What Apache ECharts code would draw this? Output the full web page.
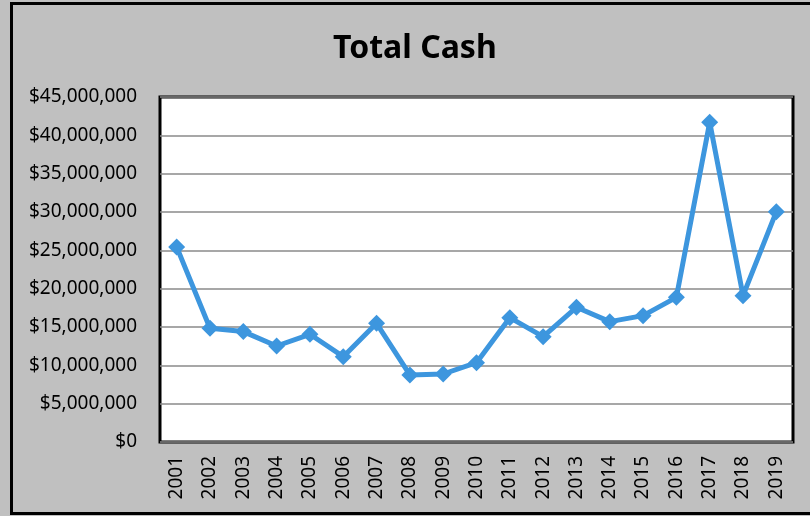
<!DOCTYPE html>
<html>
<head>
<meta charset="utf-8">
<script src="https://cdn.jsdelivr.net/npm/echarts@6/dist/echarts.min.js"></script>
<style>
  html, body { margin: 0; padding: 0; background: #c0c0c0; }
  #chart { width: 810px; height: 516px; }
</style>
</head>
<body>
<div id="chart"></div>
<script>
// data
const years = ["2001", "2002", "2003", "2004", "2005", "2006", "2007", "2008", "2009", "2010",
  "2011", "2012", "2013", "2014", "2015", "2016", "2017", "2018", "2019"];
const totalCash = [25450000, 14830000, 14400000, 12520000, 14050000, 11130000, 15480000, 8750000, 8870000, 10350000,
  16220000, 13740000, 17570000, 15700000, 16480000, 18870000, 41700000, 19090000, 30040000];
const yMin = 0;
const yMax = 45000000;
const yStep = 5000000;

const chart = echarts.init(document.getElementById("chart"));

function money(v) {
  return "$" + v.toLocaleString("en-US");
}

const option = {
  backgroundColor: "#c0c0c0",
  animation: false,
  textStyle: { fontFamily: "Noto Sans" },
  title: {
    text: "Total Cash",
    left: 328,
    top: 28,
    textStyle: { fontFamily: "Noto Sans", fontWeight: "bold", fontSize: 32, color: "#000" }
  },
  graphic: [
    {
      // outer frame
      type: "rect",
      shape: { x: 11.5, y: 3.5, width: 820, height: 510 },
      style: { fill: "none", stroke: "#000", lineWidth: 3 },
      z: 100
    }
  ],
  grid: {
    left: 160,
    top: 97,
    right: 17,
    bottom: 74,
    show: true,
    backgroundColor: "#fff",
    borderColor: "#000",
    borderWidth: 3
  },
  xAxis: {
    type: "category",
    data: years,
    boundaryGap: true,
    axisLine: { show: false },
    axisTick: { show: false },
    axisLabel: {
      rotate: 90,
      margin: 14,
      fontSize: 19,
      color: "#000",
      fontFamily: "Noto Sans"
    }
  },
  yAxis: {
    type: "value",
    min: yMin,
    max: yMax,
    interval: yStep,
    axisLine: { show: false },
    axisTick: { show: false },
    axisLabel: {
      margin: 23,
      fontSize: 19,
      color: "#000",
      fontFamily: "Noto Sans",
      formatter: money
    },
    splitLine: { lineStyle: { color: "#8a8a8a", width: 1.5 } }
  },
  series: [
    {
      type: "line",
      data: totalCash,
      symbol: "diamond",
      symbolSize: 17,
      lineStyle: { color: "#3d96de", width: 5 },
      itemStyle: { color: "#3d96de" },
      z: 5
    }
  ]
};

chart.setOption(option);
</script>
</body>
</html>
